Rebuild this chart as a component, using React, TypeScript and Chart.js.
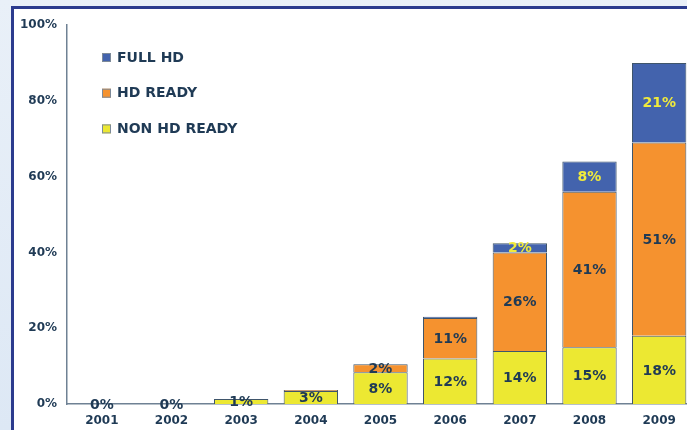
import React, { useEffect, useRef } from "react";
import { Chart, registerables } from "chart.js";

Chart.register(...registerables);

const years = ["2001", "2002", "2003", "2004", "2005", "2006", "2007", "2008", "2009"];
const nonHdReady = [0, 0, 1.3, 3.4, 8.4, 12, 14, 15, 18];
const hdReady = [0, 0, 0, 0.3, 2.1, 10.7, 26, 41, 51];
const fullHd = [0, 0, 0, 0, 0, 0.3, 2.4, 8, 21];
const yTicks = [0, 20, 40, 60, 80, 100];

const NAVY = "#1f3a55";
const YELLOW_TXT = "#f0ea3c";
const FONT = "'DejaVu Sans', Verdana, sans-serif";

const legendItems = [
  { label: "FULL HD", color: "#4363ad" },
  { label: "HD READY", color: "#f5922f" },
  { label: "NON HD READY", color: "#ece832" },
];

const framePlugin = {
  id: "frame",
  beforeDraw(chart: any) {
    const ctx = chart.ctx;
    ctx.save();
    const g = ctx.createLinearGradient(0, 0, 0, chart.height);
    g.addColorStop(0, "#e9f0f8");
    g.addColorStop(1, "#dde8f5");
    ctx.fillStyle = g;
    ctx.fillRect(0, 0, chart.width, chart.height);
    ctx.fillStyle = "#ffffff";
    ctx.fillRect(13, 8, chart.width - 13, chart.height - 8);
    ctx.strokeStyle = "#2b3b8e";
    ctx.lineWidth = 3;
    ctx.beginPath();
    ctx.moveTo(12.5, chart.height);
    ctx.lineTo(12.5, 7.5);
    ctx.lineTo(chart.width, 7.5);
    ctx.stroke();
    ctx.restore();
  },
  afterDraw(chart: any) {
    const ctx = chart.ctx;
    ctx.save();
    // legend
    ctx.font = `bold 14px ${FONT}`;
    ctx.textBaseline = "middle";
    ctx.textAlign = "left";
    legendItems.forEach((it, i) => {
      const y = 57.5 + i * 35.7;
      ctx.fillStyle = it.color;
      ctx.fillRect(102, y - 4.5, 9, 9);
      ctx.strokeStyle = "#7d8a99";
      ctx.lineWidth = 1;
      ctx.strokeRect(102.5, y - 4, 8, 8);
      ctx.fillStyle = NAVY;
      ctx.fillText(it.label, 117, y + 0.5);
    });
    // value labels
    ctx.font = `bold 14px ${FONT}`;
    ctx.textAlign = "center";
    chart.data.datasets.forEach((ds: any, di: number) => {
      const meta = chart.getDatasetMeta(di);
      meta.data.forEach((bar: any, i: number) => {
        const v = ds.data[i];
        if (!(v >= 1 || di === 0)) return;
        const y = (bar.y + bar.base) / 2;
        ctx.fillStyle = di === 2 ? YELLOW_TXT : NAVY;
        ctx.fillText(Math.round(v) + "%", bar.x, y + 1);
      });
    });
    ctx.restore();
  },
};

export default function App() {
  const ref = useRef<HTMLCanvasElement>(null);
  useEffect(() => {
    document.body.style.margin = "0";
    document.body.style.overflow = "hidden";
    const chart = new Chart(ref.current!, {
      type: "bar",
      data: {
        labels: years,
        datasets: [
          { label: "NON HD READY", data: nonHdReady, backgroundColor: "#ece832", borderColor: "#3f556b", borderWidth: 1 },
          { label: "HD READY", data: hdReady, backgroundColor: "#f5922f", borderColor: "#3f556b", borderWidth: 1 },
          { label: "FULL HD", data: fullHd, backgroundColor: "#4363ad", borderColor: "#3f556b", borderWidth: 1 },
        ],
      },
      options: {
        responsive: false,
        animation: false,
        layout: { padding: { top: 25, left: 0, right: 0, bottom: 0 } },
        plugins: { legend: { display: false }, tooltip: { enabled: false } },
        datasets: { bar: { categoryPercentage: 1, barPercentage: 0.78 } },
        scales: {
          x: {
            stacked: true,
            grid: { display: false, drawTicks: false },
            border: { color: "#6f8194", width: 1.5 },
            ticks: { color: NAVY, font: { family: FONT, size: 12, weight: "bold" }, padding: 10 },
            afterFit: (s: any) => { s.height = 26; },
          },
          y: {
            stacked: true,
            min: 0,
            max: 100,
            afterBuildTicks: (s: any) => { s.ticks = yTicks.map((v) => ({ value: v })); },
            grid: { display: false, drawTicks: false },
            border: { color: "#6f8194", width: 1.5 },
            ticks: {
              color: NAVY,
              font: { family: FONT, size: 12, weight: "bold" },
              padding: 10,
              callback: (v: any) => v + "%",
            },
            afterFit: (s: any) => { s.width = 67; },
          },
        },
      },
      plugins: [framePlugin],
    });
    return () => chart.destroy();
  }, []);
  return (
    <div style={{ width: 694, height: 430 }}>
      <canvas ref={ref} width={694} height={430} style={{ display: "block" }} />
    </div>
  );
}
